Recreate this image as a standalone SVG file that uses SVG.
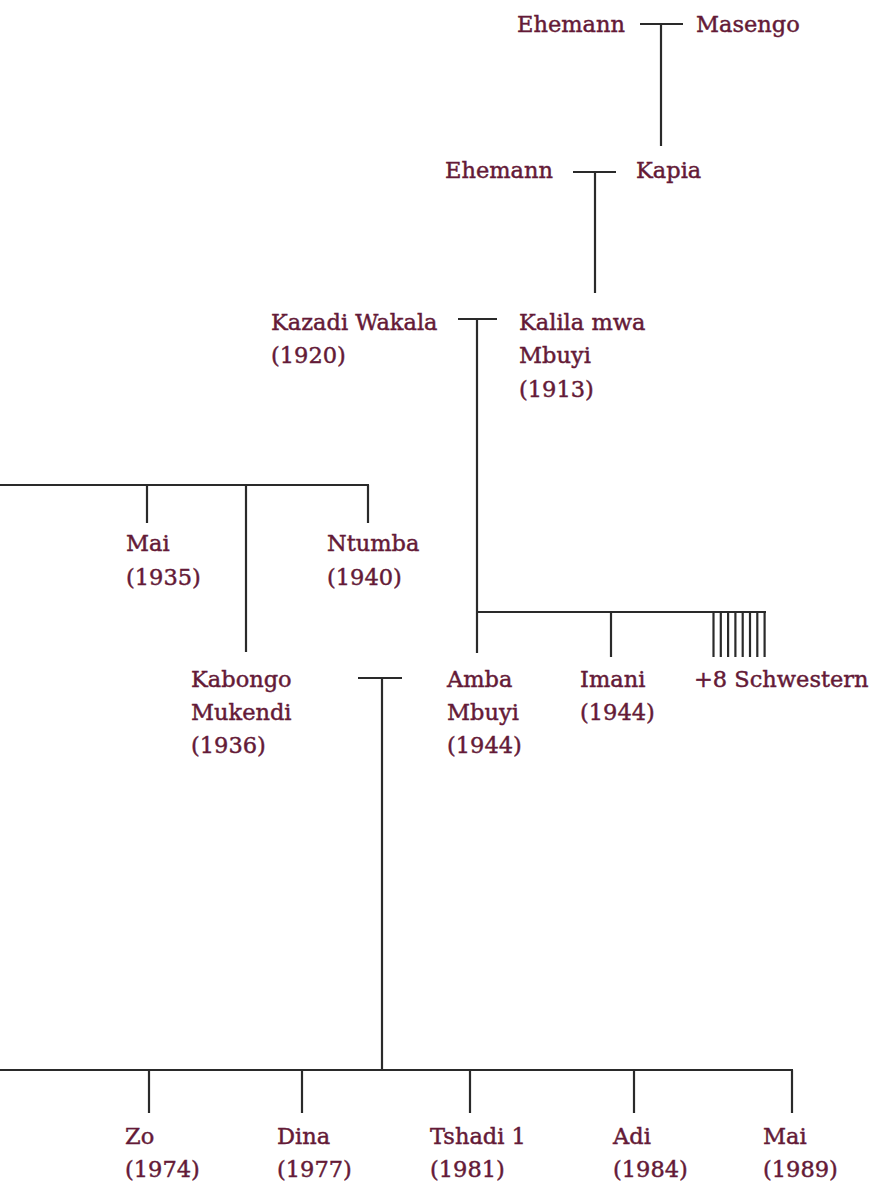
<svg xmlns="http://www.w3.org/2000/svg" width="873" height="1182" viewBox="0 0 873 1182">
<style>
text{font-family:"DejaVu Serif","Liberation Serif",serif;font-size:22.5px;fill:#641a37;stroke:#641a37;stroke-width:0.45}
.c line{stroke:#2a2a2a;stroke-width:2.2;fill:none}
</style>
<rect width="873" height="1182" fill="#fff"/>
<g class="c" id="connectors">
<line x1="640" y1="24" x2="683" y2="24"/><line x1="661" y1="24" x2="661" y2="146"/>
<line x1="573" y1="172" x2="616" y2="172"/><line x1="595" y1="172" x2="595" y2="293"/>
<line x1="458" y1="319" x2="497" y2="319"/><line x1="477" y1="319" x2="477" y2="653"/>
<line x1="0" y1="485" x2="369" y2="485"/>
<line x1="147" y1="485" x2="147" y2="523"/><line x1="246" y1="485" x2="246" y2="652"/><line x1="368" y1="485" x2="368" y2="523"/>
<line x1="477" y1="612" x2="766" y2="612"/>
<line x1="611" y1="612" x2="611" y2="657"/>
<line x1="713.5" y1="612" x2="713.5" y2="657"/><line x1="720.8" y1="612" x2="720.8" y2="657"/><line x1="728.1" y1="612" x2="728.1" y2="657"/><line x1="735.4" y1="612" x2="735.4" y2="657"/><line x1="742.7" y1="612" x2="742.7" y2="657"/><line x1="750" y1="612" x2="750" y2="657"/><line x1="757.3" y1="612" x2="757.3" y2="657"/><line x1="764.6" y1="612" x2="764.6" y2="657"/>
<line x1="358" y1="678" x2="402" y2="678"/><line x1="382" y1="678" x2="382" y2="1070"/>
<line x1="0" y1="1070" x2="793" y2="1070"/>
<line x1="149" y1="1070" x2="149" y2="1113"/><line x1="302" y1="1070" x2="302" y2="1113"/><line x1="470" y1="1070" x2="470" y2="1113"/><line x1="634" y1="1070" x2="634" y2="1113"/><line x1="792" y1="1070" x2="792" y2="1113"/>
</g>
<g id="ehemann1"><text x="517" y="32">Ehemann</text></g>
<g id="masengo"><text x="696" y="32">Masengo</text></g>
<g id="ehemann2"><text x="445" y="178">Ehemann</text></g>
<g id="kapia"><text x="636" y="178">Kapia</text></g>
<g id="kazadi"><text x="271" y="330">Kazadi Wakala</text><text x="271" y="363">(1920)</text></g>
<g id="kalila"><text x="519" y="330">Kalila mwa</text><text x="519" y="363">Mbuyi</text><text x="519" y="397">(1913)</text></g>
<g id="mai1935"><text x="126" y="551">Mai</text><text x="126" y="585">(1935)</text></g>
<g id="ntumba"><text x="327" y="551">Ntumba</text><text x="327" y="585">(1940)</text></g>
<g id="kabongo"><text x="191" y="687">Kabongo</text><text x="191" y="720">Mukendi</text><text x="191" y="753">(1936)</text></g>
<g id="amba"><text x="447" y="687">Amba</text><text x="447" y="720">Mbuyi</text><text x="447" y="753">(1944)</text></g>
<g id="imani"><text x="580" y="687">Imani</text><text x="580" y="720">(1944)</text></g>
<g id="schwestern"><text x="694" y="687">+8 Schwestern</text></g>
<g id="zo"><text x="125" y="1144">Zo</text><text x="125" y="1177">(1974)</text></g>
<g id="dina"><text x="277" y="1144">Dina</text><text x="277" y="1177">(1977)</text></g>
<g id="tshadi"><text x="430" y="1144">Tshadi 1</text><text x="430" y="1177">(1981)</text></g>
<g id="adi"><text x="613" y="1144">Adi</text><text x="613" y="1177">(1984)</text></g>
<g id="mai1989"><text x="763" y="1144">Mai</text><text x="763" y="1177">(1989)</text></g>
</svg>
